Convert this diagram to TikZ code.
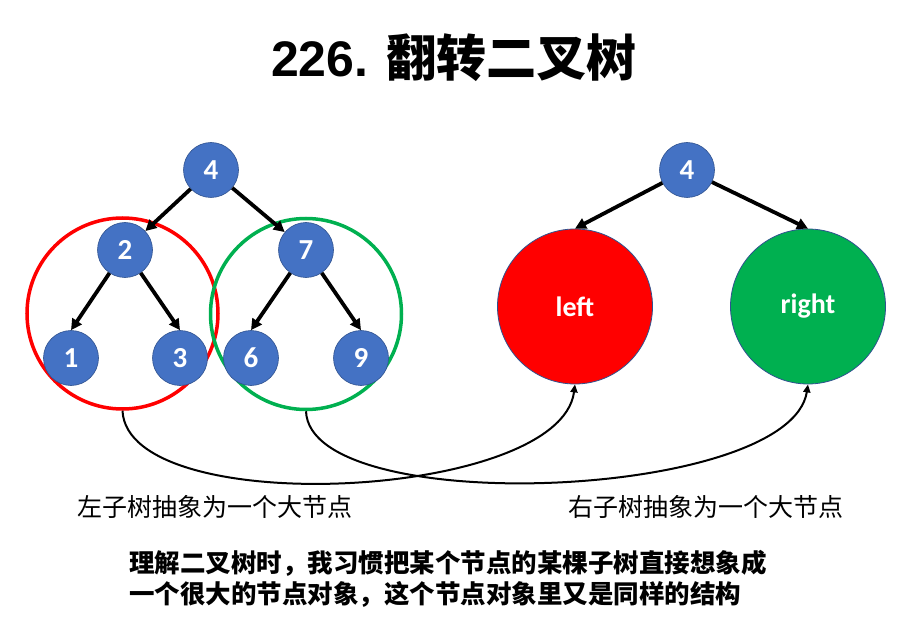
\documentclass[tikz,border=0pt]{standalone}
\usepackage{fontspec}
\setmainfont{Carlito}
\newfontfamily\cjk{Noto Sans CJK SC}
\newfontfamily\arialf{Liberation Sans}
\usetikzlibrary{arrows.meta}
\definecolor{nodeblue}{HTML}{4472C4}
\definecolor{nodeborder}{HTML}{2F528F}
\definecolor{myred}{HTML}{FF0000}
\definecolor{mygreen}{HTML}{00B050}
\begin{document}
\begin{tikzpicture}[x=1pt,y=-1pt,
  tnode/.style={circle,fill=nodeblue,draw=nodeborder,line width=0.6pt,minimum size=55pt,inner sep=0pt,text=white,font=\bfseries\fontsize{29}{29}\selectfont},
  bignode/.style={circle,draw=nodeborder,line width=0.8pt,minimum size=155pt,inner sep=0pt,text=white,font=\bfseries\fontsize{28}{28}\selectfont},
  tedge/.style={line width=3.8pt,-{Triangle[length=11pt,width=11pt]}},
  curvearrow/.style={line width=2pt,-{Triangle[length=8pt,width=7pt]}},
  ring/.style={circle,line width=3.5pt,minimum size=191pt,inner sep=0pt},
  lbl/.style={anchor=west,inner sep=0pt,font=\cjk\fontsize{25}{25}\selectfont},
  note/.style={anchor=west,inner sep=0pt,font=\cjk\bfseries\fontsize{25.5}{25.5}\selectfont}]
\useasboundingbox (0,0) rectangle (910,636);
% title
\node[inner sep=0pt] (title) at (454,58) {\fontsize{50}{50}\selectfont{\arialf\bfseries 226. }{\cjk\bfseries 翻转二叉树}};
% rings
\node[ring,draw=myred] (redring) at (122.5,313.5) {};
\node[ring,draw=mygreen] (greenring) at (306,314) {};
% left tree
\node[tnode] (a4) at (211,170) {4};
\node[tnode] (a2) at (125,250) {2};
\node[tnode] (a7) at (306,250) {7};
\node[tnode] (a1) at (71,358) {1};
\node[tnode] (a3) at (180,358) {3};
\node[tnode] (a6) at (251,358) {6};
\node[tnode] (a9) at (361,358) {9};
\draw[tedge] (a4) -- (a2);
\draw[tedge] (a4) -- (a7);
\draw[tedge] (a2) -- (a1.north);
\draw[tedge] (a2) -- (a3.north);
\draw[tedge] (a7) -- (a6.north);
\draw[tedge] (a7) -- (a9.north);
% right tree
\node[tnode] (b4) at (687,170) {4};
\node[bignode,fill=myred] (bl) at (575,306.5) {left};
\node[bignode,fill=mygreen] (br) at (808,306.5) {right};
\draw[tedge] (b4) -- (bl.north);
\draw[tedge] (b4) -- (br.north);
% curves
\draw[curvearrow] (redring.south) .. controls +(5,110) and +(-15,116) .. (bl.south);
\draw[curvearrow] (greenring.south) .. controls +(4,108) and +(-18,116) .. (br.south);
% labels
\node[lbl] (ll) at (77,507) {左子树抽象为一个大节点};
\node[lbl] (rl) at (568,507) {右子树抽象为一个大节点};
\node[note] (n1) at (129,563) {理解二叉树时，我习惯把某个节点的某棵子树直接想象成};
\node[note] (n2) at (129,594) {一个很大的节点对象，这个节点对象里又是同样的结构};
\end{tikzpicture}
\end{document}
